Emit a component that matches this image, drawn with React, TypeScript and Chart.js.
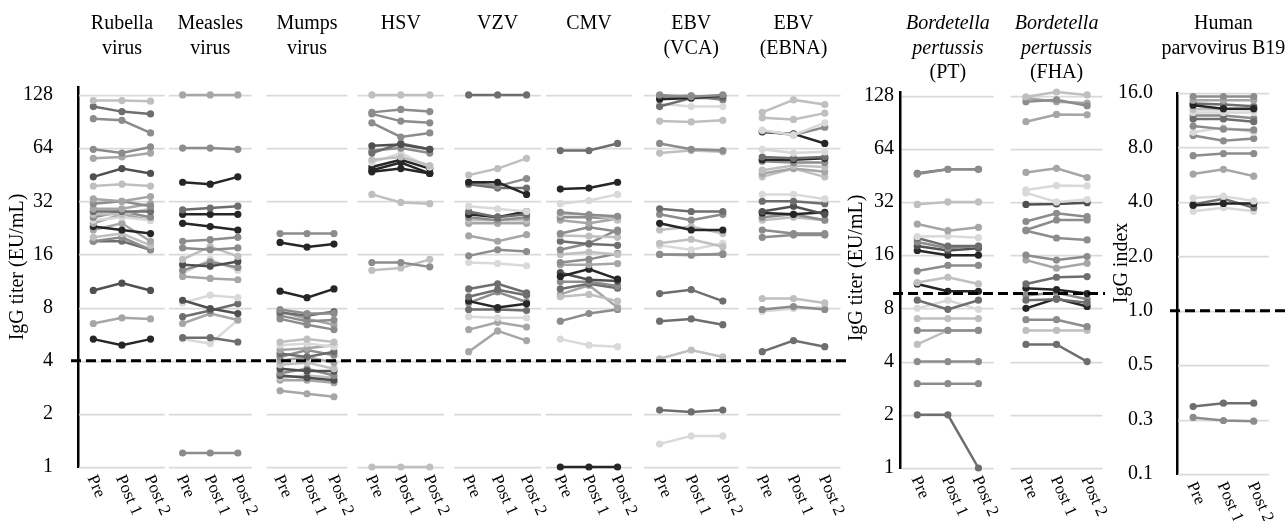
import React, { useEffect, useRef } from 'react';
import { Chart, registerables } from 'chart.js';
Chart.register(...registerables);

// ---------- categories & ticks ----------
const visits = ['Pre', 'Post 1', 'Post 2'];
const titerTicks = [1, 2, 4, 8, 16, 32, 64, 128];
const indexTicks = [0.125, 0.25, 0.5, 1, 2, 4, 8, 16];

// ---------- data: [Pre, Post 1, Post 2] per subject ----------
const rubella = [
  [119, 119, 118], [110, 103, 100], [94, 92, 78], [63, 60, 65], [56, 57, 60], [44, 49, 46],
  [39, 40, 39], [33, 32, 34], [31, 32, 30], [29, 29, 31], [28, 28, 28], [27, 27, 29],
  [26, 28, 26], [25, 26, 25], [24, 27, 25], [23, 22, 21], [22, 24, 19], [20, 21, 18],
  [19, 20, 17], [19, 19, 17], [10, 11, 10], [6.5, 7, 6.9], [5.3, 4.9, 5.3],
];
const measles = [
  [128, 128, 128], [64, 64, 63], [41, 40, 44], [28.6, 29.3, 30], [27, 27, 27], [24, 23, 22],
  [19, 19.4, 20], [17.4, 17, 17.4], [15, 17.7, 15.6], [14, 13.7, 14.6], [13, 14.5, 13.5],
  [12, 11.7, 11.5], [12.5, 15, 13], [8.8, 7.9, 7.4], [8.5, 9.4, 9.1], [7.1, 7.7, 8.4],
  [6.5, 7.4, 6.8], [5.4, 5.4, 5.1], [5.3, 5.0, 6.8], [1.2, 1.2, 1.2],
];
const mumps = [
  [21, 21, 21], [18.7, 17.6, 18.3], [9.9, 9.1, 10.2], [7.8, 7.4, 7.4], [7.5, 7.2, 7.6],
  [7.2, 6.7, 6.8], [6.9, 6.4, 6.0], [7.6, 6.9, 6.4], [5.1, 5.3, 5.1], [4.9, 5.0, 4.8],
  [4.6, 4.7, 4.9], [4.4, 4.2, 4.5], [4.2, 4.6, 4.3], [4.0, 4.2, 3.9], [3.8, 3.9, 3.6],
  [3.6, 3.5, 3.5], [3.4, 3.6, 3.3], [3.3, 3.2, 3.1], [3.2, 3.3, 3.2], [3.1, 3.1, 3.0],
  [2.7, 2.6, 2.5],
];
const hsv = [
  [128, 128, 128], [102, 106, 103], [100, 91, 89], [89, 74, 78], [66, 67, 63], [60, 68, 63],
  [62, 64, 60], [55, 57, 51], [53, 60, 50], [50, 55, 49], [47, 49, 46], [48, 53, 46],
  [35, 31.5, 31], [14.4, 14.4, 13.6], [13, 13.4, 15], [1, 1, 1],
];
const vzv = [
  [128, 128, 128], [45, 49, 56], [41, 41, 35], [41, 39, 43], [40, 38, 38], [30, 29, 28],
  [28, 26, 27], [27, 26, 28], [26, 25, 26], [25, 25, 25], [24, 24, 24], [20.4, 19, 20.7],
  [15.7, 17, 16.6], [14.4, 14.2, 13.8], [10.2, 10.9, 9.7], [9.2, 10.1, 9.4], [8.7, 8, 8.4],
  [7.8, 7.8, 7.7], [8.5, 9.8, 8.6], [7.1, 7, 7], [6, 6.6, 6.2], [4.5, 5.9, 5.2],
];
const cmv = [
  [62, 62, 68], [37.5, 38, 41], [31, 32.3, 35], [27.7, 26.8, 26.3], [27, 27, 25], [26, 26, 25.5],
  [25, 24, 25.5], [21, 22.8, 21.6], [20.5, 20.3, 20], [19, 18.3, 18], [17, 18.5, 22],
  [16, 16.5, 16], [14.4, 15, 16.2], [14, 14, 14.2], [12, 13.2, 11.6], [12.6, 11.5, 11.3],
  [11.2, 11.2, 10.6], [10.2, 10.9, 10.3], [9.2, 9.5, 8.7], [9.5, 10.7, 8], [6.7, 7.4, 7.8],
  [5.3, 4.9, 4.8], [1, 1, 1],
];
const ebvVca = [
  [128, 125, 128], [121, 123, 127], [110, 123, 123], [114, 110, 110], [125, 127, 120],
  [91, 90, 92], [68, 63, 62], [60, 62, 61], [29, 28, 28], [27, 25, 27], [24, 22, 22],
  [22, 23, 21], [18.5, 19.5, 17.7], [18, 17, 18.5], [16, 16, 16], [16, 15.8, 16.2],
  [9.6, 10.1, 8.7], [6.7, 6.9, 6.4], [4.1, 4.6, 4.2], [2.1, 2.05, 2.1], [1.35, 1.5, 1.5],
];
const ebvEbna = [
  [102, 120, 113], [95, 93, 101], [81, 76, 89], [80, 76, 84], [79, 77, 68], [63, 60, 61],
  [57, 56, 57], [55, 55, 56], [54, 53, 53], [48, 51, 50], [46, 49, 47], [44, 49, 44],
  [35, 35, 33], [32, 32, 31], [28, 30, 27], [27.5, 27, 27.7], [26, 27, 25], [25, 26, 25],
  [22, 21, 21], [20, 20.6, 20.6], [9, 9, 8.5], [7.8, 8.1, 7.8], [7.6, 7.9, 8], [4.5, 5.2, 4.8],
];
const pertussisPT = [
  [46, 49, 49], [46.5, 49, 49], [31, 32, 32], [24, 22, 23], [20.4, 20.5, 20.1], [20, 18, 18],
  [19, 17.5, 18], [18, 17, 17.5], [17, 16, 16], [13, 14, 14], [11.2, 12, 11], [11, 10, 10],
  [8.9, 7.9, 8.9], [8, 8.9, 7.9], [7, 7, 7], [6, 6, 6], [5, 6, 6], [4, 4, 4], [3, 3, 3],
  [2, 2, 1],
];
const pertussisFHA = [
  [126, 134, 129], [118, 121, 112], [124, 118, 116], [91, 100, 99.5], [47, 49.6, 44],
  [37.4, 39.6, 39.4], [36, 32, 33], [31, 31.2, 31.7], [24.8, 27.6, 26.4], [22.2, 25.3, 25.3],
  [22, 20, 19.5], [16, 15, 15.7], [15, 13.5, 14.4], [11, 12, 12.1], [10.4, 10.2, 9.7],
  [8.9, 9, 8.6], [9.5, 9.8, 9], [8, 9.1, 8.2], [6.9, 6.9, 6.3], [6, 6, 6], [5, 5, 4],
];
const parvoB19 = [
  [15.3, 15.3, 15.3], [14.6, 14.6, 14.6], [13.7, 13.1, 13.1], [14, 13.8, 13.5], [13, 13, 13],
  [12.5, 12.5, 12.5], [11.5, 11.5, 11.1], [12, 12, 11.6], [10.5, 10.1, 10], [9.7, 10.3, 9.7],
  [9.3, 8.7, 8.95], [7.2, 7.4, 7.4], [5.7, 6.05, 5.55], [4.2, 4.3, 4.05], [3.82, 3.92, 3.92],
  [3.87, 4.16, 3.71], [3.55, 3.71, 3.55], [0.295, 0.308, 0.308], [0.257, 0.247, 0.245],
];

// ---------- style: grey shade index per subject line ----------
const PALETTE = ['#d9d9d9', '#bfbfbf', '#a6a6a6', '#8c8c8c', '#6e6e6e', '#505050', '#262626'];
const rubellaShade = [1, 4, 3, 3, 2, 5, 1, 2, 3, 2, 4, 1, 3, 0, 2, 6, 2, 1, 3, 4, 5, 2, 6];
const measlesShade = [2, 3, 6, 4, 6, 6, 3, 3, 1, 5, 3, 2, 0, 5, 0, 4, 2, 4, 0, 3];
const mumpsShade = [3, 6, 6, 3, 4, 3, 3, 2, 1, 0, 2, 4, 3, 2, 1, 5, 3, 5, 1, 2, 2];
const hsvShade = [1, 3, 3, 3, 5, 4, 3, 1, 0, 6, 6, 6, 1, 3, 1, 1];
const vzvShade = [4, 1, 6, 3, 4, 0, 4, 6, 3, 1, 2, 2, 3, 0, 4, 4, 6, 4, 3, 0, 2, 2];
const cmvShade = [4, 6, 0, 3, 1, 3, 2, 3, 1, 4, 3, 1, 3, 2, 6, 5, 3, 4, 1, 2, 3, 0, 6];
const ebvVcaShade = [3, 6, 4, 0, 3, 1, 3, 1, 4, 3, 6, 1, 1, 0, 3, 2, 4, 4, 1, 4, 0];
const ebvEbnaShade = [1, 1, 0, 3, 6, 0, 4, 6, 3, 1, 2, 1, 0, 4, 5, 6, 3, 1, 3, 3, 1, 3, 0, 4];
const ptShade = [3, 4, 1, 2, 0, 4, 3, 5, 6, 3, 1, 6, 4, 0, 1, 3, 1, 3, 3, 4];
const fhaShade = [1, 3, 2, 2, 2, 0, 0, 5, 3, 3, 3, 3, 2, 4, 6, 4, 3, 6, 3, 1, 4];
const b19Shade = [3, 2, 6, 4, 1, 0, 4, 3, 3, 0, 3, 3, 2, 0, 6, 4, 0, 4, 3];

type Line = { t: string; i?: boolean };
type Group = { title: Line[]; values: number[][]; shades: number[]; ext: [number, number] };
type Panel = {
  left: number; width: number; axisX: number; areaRight: number; top: number; bottom: number;
  min: number; max: number; ticks: number[]; fmt: (v: number) => string; tickPad: number;
  threshold: number; dashFrom: number; dashTo: number;
  axisTitle: string; axisTitleX: number; axisTitleY: number; groups: Group[];
};

const PANELS: Panel[] = [
  {
    left: 0, width: 850, axisX: 78, areaRight: 848, top: 87, bottom: 467,
    min: 1, max: 142, ticks: titerTicks, fmt: (v) => String(v), tickPad: 25,
    threshold: 4, dashFrom: 71, dashTo: 848,
    axisTitle: 'IgG titer (EU/mL)', axisTitleX: 18, axisTitleY: 267,
    groups: [
      { title: [{ t: 'Rubella' }, { t: 'virus' }], values: rubella, shades: rubellaShade, ext: [79, 165] },
      { title: [{ t: 'Measles' }, { t: 'virus' }], values: measles, shades: measlesShade, ext: [169, 252] },
      { title: [{ t: 'Mumps' }, { t: 'virus' }], values: mumps, shades: mumpsShade, ext: [267, 348] },
      { title: [{ t: 'HSV' }], values: hsv, shades: hsvShade, ext: [358, 445] },
      { title: [{ t: 'VZV' }], values: vzv, shades: vzvShade, ext: [455, 542] },
      { title: [{ t: 'CMV' }], values: cmv, shades: cmvShade, ext: [547, 633] },
      { title: [{ t: 'EBV' }, { t: '(VCA)' }], values: ebvVca, shades: ebvVcaShade, ext: [645, 740] },
      { title: [{ t: 'EBV' }, { t: '(EBNA)' }], values: ebvEbna, shades: ebvEbnaShade, ext: [748, 842] },
    ],
  },
  {
    left: 845, width: 263, axisX: 900, areaRight: 1105, top: 92, bottom: 468,
    min: 1, max: 134, ticks: titerTicks, fmt: (v) => String(v), tickPad: 6,
    threshold: 9.7, dashFrom: 893, dashTo: 1105,
    axisTitle: 'IgG titer (EU/mL)', axisTitleX: 857, axisTitleY: 268,
    groups: [
      { title: [{ t: 'Bordetella', i: true }, { t: 'pertussis', i: true }, { t: '(PT)' }], values: pertussisPT, shades: ptShade, ext: [902, 994] },
      { title: [{ t: 'Bordetella', i: true }, { t: 'pertussis', i: true }, { t: '(FHA)' }], values: pertussisFHA, shades: fhaShade, ext: [1011, 1103] },
    ],
  },
  {
    left: 1108, width: 179, axisX: 1177, areaRight: 1287, top: 93, bottom: 474,
    min: 0.125, max: 16, ticks: indexTicks, fmt: (v) => v.toFixed(1), tickPad: 24,
    threshold: 1, dashFrom: 1170, dashTo: 1287,
    axisTitle: 'IgG index', axisTitleX: 1122, axisTitleY: 263,
    groups: [
      { title: [{ t: 'Human' }, { t: 'parvovirus B19' }], values: parvoB19, shades: b19Shade, ext: [1178, 1272] },
    ],
  },
];

const FONT = '"Liberation Serif", "Times New Roman", serif';

function makeDecor(p: Panel) {
  return {
    id: 'decor',
    beforeDatasetsDraw(chart: any) {
      const { ctx } = chart;
      const y = chart.scales.y;
      ctx.save();
      ctx.strokeStyle = '#d9d9d9';
      ctx.lineWidth = 1.75;
      p.groups.forEach((g, gi) => {
        const xs = chart.scales['x' + gi];
        const x0 = xs.getPixelForValue(-0.5);
        const x1 = xs.getPixelForValue(2.5);
        p.ticks.forEach((t) => {
          const py = Math.round(y.getPixelForValue(t)) + 0.5;
          ctx.beginPath();
          ctx.moveTo(x0, py);
          ctx.lineTo(x1, py);
          ctx.stroke();
        });
      });
      ctx.restore();
    },
    afterDatasetsDraw(chart: any) {
      const { ctx, chartArea } = chart;
      const y = chart.scales.y;
      ctx.save();
      // threshold
      const ty = y.getPixelForValue(p.threshold);
      ctx.strokeStyle = '#000';
      ctx.lineWidth = 3;
      ctx.setLineDash([10, 5]);
      ctx.beginPath();
      ctx.moveTo(p.dashFrom - p.left, ty);
      ctx.lineTo(p.dashTo - p.left, ty);
      ctx.stroke();
      ctx.setLineDash([]);
      ctx.fillStyle = '#000';
      // group titles and visit labels
      p.groups.forEach((g, gi) => {
        const xs = chart.scales['x' + gi];
        const cx = xs.getPixelForValue(1);
        ctx.textAlign = 'center';
        ctx.textBaseline = 'middle';
        g.title.forEach((ln, li) => {
          ctx.font = `${ln.i ? 'italic ' : ''}20px ${FONT}`;
          ctx.fillText(ln.t, cx, 24 + li * 24.5);
        });
        ctx.font = `17px ${FONT}`;
        ctx.textAlign = 'left';
        visits.forEach((lab, k) => {
          const px = xs.getPixelForValue(k);
          ctx.save();
          ctx.translate(px - 2, chartArea.bottom + 9);
          ctx.rotate((66 * Math.PI) / 180);
          ctx.fillText(lab, 0, 0);
          ctx.restore();
        });
      });
      // axis title
      ctx.save();
      ctx.translate(p.axisTitleX - p.left, p.axisTitleY);
      ctx.rotate(-Math.PI / 2);
      ctx.textAlign = 'center';
      ctx.textBaseline = 'middle';
      ctx.font = `20px ${FONT}`;
      ctx.fillText(p.axisTitle, 0, 0);
      ctx.restore();
      ctx.restore();
    },
  };
}

function PanelChart({ p }: { p: Panel }) {
  const ref = useRef<HTMLCanvasElement>(null);
  useEffect(() => {
    if (!ref.current) return;
    const areaL = p.axisX - p.left;
    const areaR = p.areaRight - p.left;
    const W = areaR - areaL;
    const scales: any = {
      y: {
        type: 'logarithmic',
        min: p.min,
        max: p.max,
        bounds: 'data',
        afterFit: (s: any) => { s.width = areaL; },
        afterBuildTicks: (s: any) => { s.ticks = p.ticks.map((v) => ({ value: v })); },
        grid: { display: false, drawTicks: false },
        border: { display: true, color: '#000', width: 2.5 },
        ticks: {
          padding: p.tickPad,
          color: '#000',
          font: { family: FONT, size: 20 },
          callback: (v: any) => p.fmt(Number(v)),
        },
      },
    };
    const datasets: any[] = [];
    p.groups.forEach((g, gi) => {
      const e0 = g.ext[0] - p.left;
      const e1 = g.ext[1] - p.left;
      const w = (e1 - e0) / W;
      const a = (e0 - areaL) / W;
      const range = 3 / w;
      const min = -0.5 - a * range;
      scales['x' + gi] = { type: 'linear', display: false, bounds: 'data', min, max: min + range };
      g.values.forEach((row, ri) => {
        const c = PALETTE[g.shades[ri]];
        datasets.push({
          label: `${g.title.map((l) => l.t).join(' ')} #${ri + 1}`,
          xAxisID: 'x' + gi,
          yAxisID: 'y',
          data: row.map((v, k) => ({ x: k, y: v })),
          borderColor: c,
          backgroundColor: c,
          pointBackgroundColor: c,
          pointBorderColor: c,
          borderWidth: 2.5,
          pointRadius: 3.6,
          pointBorderWidth: 0,
          pointHoverRadius: 3.6,
          tension: 0,
          clip: false,
        });
      });
    });
    const chart = new Chart(ref.current, {
      type: 'line',
      data: { datasets },
      options: {
        responsive: false,
        animation: false,
        maintainAspectRatio: false,
        layout: { padding: { top: p.top, bottom: 521 - p.bottom, left: 0, right: p.width - areaR } },
        scales,
        plugins: { legend: { display: false }, tooltip: { enabled: false } },
        events: [],
      },
      plugins: [makeDecor(p)],
    } as any);
    return () => chart.destroy();
  }, [p]);
  return (
    <canvas
      ref={ref}
      width={p.width}
      height={521}
      style={{ position: 'absolute', left: p.left, top: 0, width: p.width, height: 521 }}
    />
  );
}

export default function App() {
  return (
    <div style={{ position: 'absolute', left: 0, top: 0, width: 1287, height: 521, background: '#fff', overflow: 'hidden' }}>
      {PANELS.map((p, i) => (
        <PanelChart key={i} p={p} />
      ))}
    </div>
  );
}
